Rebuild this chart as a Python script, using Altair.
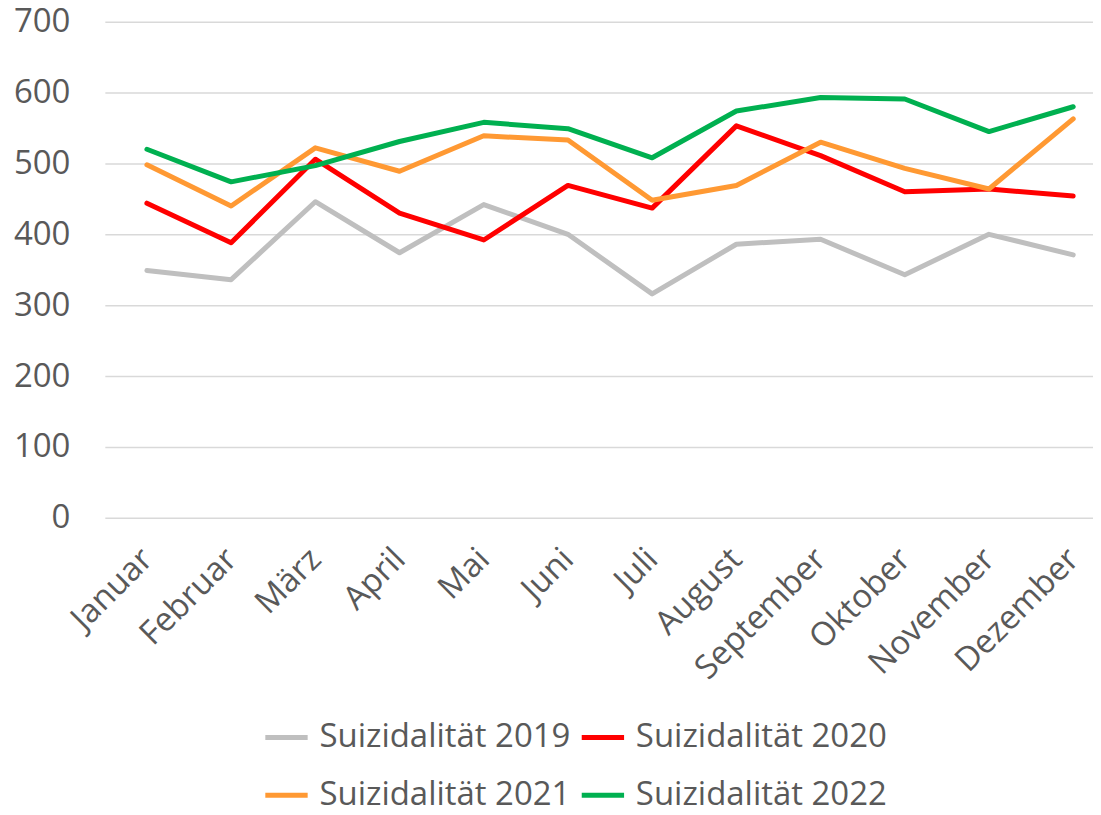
import altair as alt
import pandas as pd

months = ["Januar", "Februar", "März", "April", "Mai", "Juni", "Juli",
          "August", "September", "Oktober", "November", "Dezember"]
series_names = ["Suizidalität 2019", "Suizidalität 2020", "Suizidalität 2021", "Suizidalität 2022"]
v2019 = [349, 336, 446, 374, 442, 400, 316, 386, 393, 343, 400, 371]
v2020 = [444, 388, 506, 430, 392, 469, 437, 553, 511, 460, 464, 454]
v2021 = [498, 440, 522, 489, 539, 533, 448, 469, 530, 493, 464, 563]
v2022 = [520, 474, 497, 531, 558, 549, 508, 574, 593, 591, 545, 580]
colors = ["#BFBFBF", "#FF0000", "#FF9933", "#00B050"]
y_ticks = [0, 100, 200, 300, 400, 500, 600, 700]

rows = []
for name, vals in zip(series_names, [v2019, v2020, v2021, v2022]):
    for i, (m, v) in enumerate(zip(months, vals)):
        rows.append({"Monat": m, "Wert": v, "Serie": name, "order": i})
df = pd.DataFrame(rows)

FONT = "Open Sans"
TXT = "#595959"
FS = 33

chart = alt.Chart(df).mark_line(strokeWidth=5, strokeCap="round", strokeJoin="round").encode(
    x=alt.X("Monat:N", sort=months,
            scale=alt.Scale(type="point", padding=0.3675, align=0.68),
            axis=alt.Axis(title=None, labelAngle=-45, labelFontSize=FS, labelColor=TXT,
                          labelFont=FONT, domain=False, ticks=False, grid=False,
                          labelPadding=36, labelAlign="right", labelBaseline="middle")),
    y=alt.Y("Wert:Q", scale=alt.Scale(domain=[0, 700], nice=False),
            axis=alt.Axis(title=None, values=y_ticks, labelFontSize=FS, labelColor=TXT,
                          labelFont=FONT, domain=False, ticks=False, grid=True,
                          gridColor="#D9D9D9", gridWidth=1.5, labelPadding=35)),
    color=alt.Color("Serie:N", sort=series_names,
                    scale=alt.Scale(domain=series_names, range=colors),
                    legend=alt.Legend(title=None, orient="none", legendX=158, legendY=693,
                                      direction="horizontal", columns=2,
                                      symbolType="stroke", symbolSize=1800,
                                      symbolStrokeWidth=5, labelFontSize=FS,
                                      labelFont=FONT, labelColor=TXT, labelLimit=400,
                                      rowPadding=17, columnPadding=0, labelOffset=9)),
    detail="Serie:N",
    order="order:Q",
).properties(
    width=990, height=497,
    autosize=alt.AutoSizeParams(type="none"),
    padding={"left": 97, "top": 13, "right": 0, "bottom": 289},
    background="white",
).configure_view(stroke=None)

chart.save("out.html", embed_options={"renderer": "svg", "actions": False})
